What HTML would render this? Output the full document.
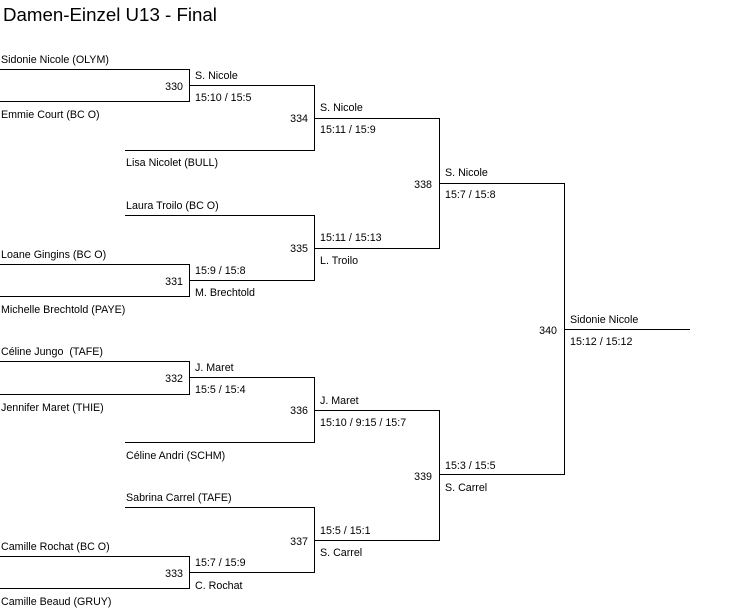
<!DOCTYPE html>
<html><head><meta charset="utf-8"><style>
html,body{margin:0;padding:0;background:#fff;width:753px;height:615px;overflow:hidden}
svg{display:block}
text{font-family:"Liberation Sans",Arial,sans-serif;font-size:10.7px;fill:#000}
</style></head><body>
<svg width="753" height="615" viewBox="0 0 753 615" xmlns="http://www.w3.org/2000/svg">
<text x="3" y="21" style="font-size:18.7px">Damen-Einzel U13 - Final</text>
<g stroke="#000" stroke-width="1" fill="none" shape-rendering="crispEdges">
<path d="M0 69.5H189.5V101.5H0"/>
<path d="M189.5 85.5H314.5V150.5H125"/>
<path d="M125 215.5H314.5V280.5H189.5"/>
<path d="M0 264.5H189.5V296.5H0"/>
<path d="M314.5 118.5H439.5V248.5H314.5"/>
<path d="M439.5 183.5H564.5V474.5H439.5"/>
<path d="M564.5 329.5H690"/>
<path d="M0 361.5H189.5V394.5H0"/>
<path d="M189.5 377.5H314.5V442.5H125"/>
<path d="M125 507.5H314.5V572.5H189.5"/>
<path d="M0 556.5H189.5V588.5H0"/>
<path d="M314.5 410.5H439.5V540.5H314.5"/>
</g>
<text x="1" y="63">Sidonie Nicole (OLYM)</text>
<text x="1" y="118">Emmie Court (BC O)</text>
<text x="126" y="166">Lisa Nicolet (BULL)</text>
<text x="126" y="209">Laura Troilo (BC O)</text>
<text x="1" y="258">Loane Gingins (BC O)</text>
<text x="1" y="313">Michelle Brechtold (PAYE)</text>
<text x="1" y="355">Céline Jungo&#160; (TAFE)</text>
<text x="1" y="411">Jennifer Maret (THIE)</text>
<text x="126" y="459">Céline Andri (SCHM)</text>
<text x="126" y="501">Sabrina Carrel (TAFE)</text>
<text x="1" y="550">Camille Rochat (BC O)</text>
<text x="1" y="605">Camille Beaud (GRUY)</text>
<g text-anchor="end">
<text x="183" y="90">330</text>
<text x="308" y="122">334</text>
<text x="308" y="252">335</text>
<text x="183" y="285">331</text>
<text x="432" y="188">338</text>
<text x="557" y="334">340</text>
<text x="183" y="382">332</text>
<text x="308" y="414">336</text>
<text x="308" y="545">337</text>
<text x="183" y="577">333</text>
<text x="432" y="480">339</text>
</g>
<text x="195" y="79">S. Nicole</text>
<text x="195" y="101">15:10 / 15:5</text>
<text x="320" y="111">S. Nicole</text>
<text x="320" y="133">15:11 / 15:9</text>
<text x="320" y="241">15:11 / 15:13</text>
<text x="320" y="264">L. Troilo</text>
<text x="195" y="274">15:9 / 15:8</text>
<text x="195" y="296">M. Brechtold</text>
<text x="445" y="176">S. Nicole</text>
<text x="445" y="198">15:7 / 15:8</text>
<text x="570" y="323">Sidonie Nicole</text>
<text x="570" y="345">15:12 / 15:12</text>
<text x="195" y="371">J. Maret</text>
<text x="195" y="393">15:5 / 15:4</text>
<text x="320" y="404">J. Maret</text>
<text x="320" y="426">15:10 / 9:15 / 15:7</text>
<text x="445" y="469">15:3 / 15:5</text>
<text x="445" y="491">S. Carrel</text>
<text x="320" y="534">15:5 / 15:1</text>
<text x="320" y="556">S. Carrel</text>
<text x="195" y="566">15:7 / 15:9</text>
<text x="195" y="589">C. Rochat</text>
</svg>
</body></html>
